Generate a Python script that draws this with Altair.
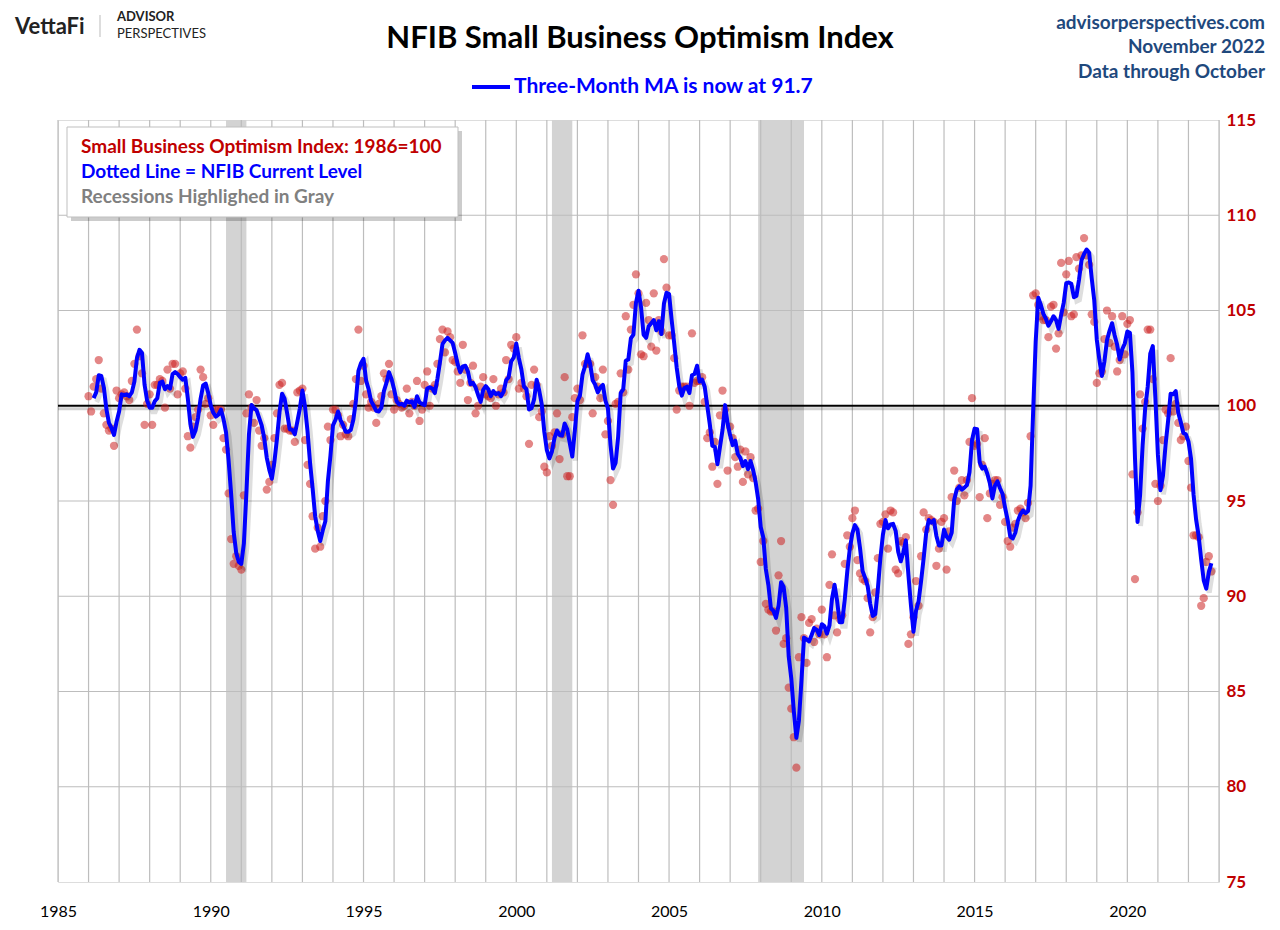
import altair as alt
import pandas as pd

# ---- monthly NFIB Small Business Optimism Index ----
v1986 = [100.5, 99.7, 101.0, 101.4, 102.4, 100.9, 99.6, 99.0, 98.7, 98.8, 97.9, 100.8]
v1987 = [100.4, 100.6, 100.7, 100.5, 100.3, 101.3, 102.2, 104.0, 102.6, 101.7, 99.0, 100.1]
v1988 = [100.6, 99.0, 101.1, 101.1, 101.4, 101.3, 99.9, 101.9, 100.9, 102.2, 102.2, 100.6]
v1989 = [101.7, 101.8, 100.9, 98.4, 97.8, 98.9, 99.4, 99.8, 101.9, 101.5, 100.1, 100.4]
v1990 = [99.5, 99.0, 99.8, 99.8, 99.8, 98.3, 97.7, 95.4, 93.0, 91.7, 92.1, 91.6]
v1991 = [91.4, 95.3, 99.6, 100.6, 99.9, 99.1, 100.3, 98.7, 97.9, 98.3, 95.6, 96.0]
v1992 = [96.9, 98.3, 99.6, 101.1, 101.2, 98.8, 98.8, 98.7, 98.7, 98.1, 100.7, 100.8]
v1993 = [100.9, 98.2, 96.9, 95.9, 94.2, 92.5, 93.6, 92.6, 94.2, 95.0, 98.9, 98.2]
v1994 = [99.8, 99.8, 99.5, 98.4, 99.0, 98.5, 98.4, 99.3, 100.1, 101.4, 104.0, 101.3]
v1995 = [102.1, 100.6, 99.9, 100.2, 99.9, 99.1, 100.1, 100.5, 101.7, 101.4, 102.2, 100.6]
v1996 = [99.8, 100.3, 100.1, 99.9, 100.0, 100.9, 99.6, 100.2, 100.0, 101.3, 99.2, 99.8]
v1997 = [101.1, 101.8, 100.0, 100.9, 101.1, 102.2, 103.5, 104.0, 102.8, 103.9, 103.6, 102.4]
v1998 = [102.3, 101.8, 101.2, 103.2, 101.9, 100.3, 101.2, 102.1, 99.6, 100.0, 101.0, 101.5]
v1999 = [100.6, 100.5, 100.4, 101.4, 100.0, 100.6, 100.9, 100.7, 102.4, 101.4, 103.2, 103.0]
v2000 = [103.6, 100.9, 101.2, 100.9, 100.5, 98.0, 101.1, 101.9, 101.1, 99.4, 99.7, 96.8]
v2001 = [96.5, 98.4, 97.9, 98.6, 99.6, 97.2, 98.5, 101.5, 96.3, 96.3, 99.4, 100.4]
v2002 = [100.9, 100.3, 103.7, 102.2, 102.2, 102.2, 99.6, 101.5, 101.0, 100.4, 101.9, 98.5]
v2003 = [99.2, 96.1, 94.8, 100.1, 100.2, 101.7, 100.7, 104.7, 101.9, 104.0, 105.3, 106.9]
v2004 = [105.9, 102.7, 102.6, 105.4, 104.5, 103.1, 105.9, 102.9, 104.5, 103.9, 107.7, 106.2]
v2005 = [103.7, 103.7, 102.5, 99.8, 100.8, 101.0, 101.0, 101.0, 100.0, 103.8, 101.2, 101.3]
v2006 = [101.3, 101.5, 100.2, 98.3, 98.6, 96.8, 98.1, 95.9, 99.5, 100.8, 99.8, 96.6]
v2007 = [98.9, 98.3, 97.3, 96.8, 97.7, 96.0, 97.6, 96.4, 97.3, 96.2, 94.5, 94.6]
v2008 = [91.8, 92.9, 89.6, 89.3, 89.2, 89.2, 88.2, 91.1, 92.9, 87.5, 87.8, 85.2]
v2009 = [84.1, 82.6, 81.0, 86.8, 88.9, 87.8, 86.5, 88.6, 88.8, 87.6, 88.3, 88.0]
v2010 = [89.3, 88.0, 86.8, 90.6, 92.2, 89.0, 88.1, 88.8, 89.0, 91.7, 93.2, 92.6]
v2011 = [94.1, 94.5, 91.9, 91.2, 90.9, 90.8, 89.9, 88.1, 88.9, 90.2, 92.0, 93.8]
v2012 = [93.9, 94.3, 92.5, 94.5, 94.4, 91.4, 91.2, 92.9, 92.8, 93.1, 87.5, 88.0]
v2013 = [88.9, 90.8, 89.5, 92.1, 94.4, 93.5, 94.1, 94.0, 93.9, 91.6, 92.5, 93.9]
v2014 = [94.1, 91.4, 93.4, 95.2, 96.6, 95.0, 95.7, 96.1, 95.3, 96.1, 98.1, 100.4]
v2015 = [97.9, 98.0, 95.2, 96.9, 98.3, 94.1, 95.4, 95.9, 96.1, 96.1, 94.8, 95.2]
v2016 = [93.9, 92.9, 92.6, 93.6, 93.8, 94.5, 94.6, 94.4, 94.1, 94.9, 98.4, 105.8]
v2017 = [105.9, 105.3, 104.7, 104.5, 104.5, 103.6, 105.2, 105.3, 103.0, 103.8, 107.5, 104.9]
v2018 = [106.9, 107.6, 104.7, 104.8, 107.8, 107.2, 107.9, 108.8, 107.9, 107.4, 104.8, 104.4]
v2019 = [101.2, 101.7, 101.8, 103.5, 105.0, 103.3, 104.7, 103.1, 101.8, 102.4, 104.7, 102.7]
v2020 = [104.3, 104.5, 96.4, 90.9, 94.4, 100.6, 98.8, 100.2, 104.0, 104.0, 101.4, 95.9]
v2021 = [95.0, 95.8, 98.2, 99.8, 99.6, 102.5, 99.7, 100.1, 99.1, 98.2, 98.4, 98.9]
v2022 = [97.1, 95.7, 93.2, 93.2, 93.1, 89.5, 89.9, 91.8, 92.1, 91.3]

series = [v1986, v1987, v1988, v1989, v1990, v1991, v1992, v1993, v1994, v1995,
          v1996, v1997, v1998, v1999, v2000, v2001, v2002, v2003, v2004, v2005,
          v2006, v2007, v2008, v2009, v2010, v2011, v2012, v2013, v2014, v2015,
          v2016, v2017, v2018, v2019, v2020, v2021, v2022]
first_year = 1986

# recessions (decimal years: Jul-1990..Mar-1991, Mar-2001..Nov-2001, Dec-2007..Jun-2009)
rec_start = [1990 + 6 / 12, 2001 + 2 / 12, 2007 + 11 / 12]
rec_end = [1991 + 2 / 12, 2001 + 10 / 12, 2009 + 5 / 12]

grid_years = list(range(1985, 2024))
grid_levels = [80, 85, 90, 95, 105, 110]
x_ticks = [1985, 1990, 1995, 2000, 2005, 2010, 2015, 2020]
y_ticks = [75, 80, 85, 90, 95, 100, 105, 110, 115]
ref_level = [100]

rows = []
for i, vals in enumerate(series):
    for m, v in enumerate(vals):
        rows.append({"t": first_year + i + m / 12.0, "value": v})
df = pd.DataFrame(rows)
rec_df = pd.DataFrame({"start": rec_start, "end": rec_end})
gy_df = pd.DataFrame({"yr": grid_years})
gl_df = pd.DataFrame({"lvl": grid_levels})
ref_df = pd.DataFrame({"lvl": ref_level})

W, H = 1161, 762
FONT = "Lato"
RED = "#C00000"
NAVY = "#1F497D"
BLUE = "#0000FF"

xs = alt.Scale(domain=[1985, 2023], nice=False, zero=False)
ys = alt.Scale(domain=[75, 115], nice=False, zero=False)
x_axis = alt.Axis(values=x_ticks, format="d", labelFontSize=16, labelColor="#000000",
                  labelFont=FONT, ticks=False, domain=False, grid=False,
                  labelPadding=21, labelFlush=False, title=None)
y_axis = alt.Axis(values=y_ticks, orient="right", labelFontSize=17, labelColor=RED,
                  labelFontWeight="bold", labelFont=FONT, ticks=False, domain=False,
                  grid=False, labelPadding=7, labelFlush=False, title=None)

rec = alt.Chart(rec_df).mark_rect(color="#D3D3D3").encode(
    x=alt.X("start:Q", scale=xs, axis=x_axis),
    x2="end:Q",
    y=alt.Y("lo:Q", scale=ys, axis=y_axis),
    y2="hi:Q",
).transform_calculate(lo="75", hi="115")

vgrid = alt.Chart(gy_df).mark_rule(color="#BDBDBD", strokeWidth=1.2).encode(
    x=alt.X("yr:Q", scale=xs, axis=x_axis))
hgrid = alt.Chart(gl_df).mark_rule(color="#BDBDBD", strokeWidth=1.2).encode(
    y=alt.Y("lvl:Q", scale=ys, axis=y_axis))
ref_shadow = alt.Chart(ref_df).mark_rule(color="#000000", opacity=0.18, strokeWidth=3,
                                         yOffset=3).encode(
    y=alt.Y("lvl:Q", scale=ys, axis=y_axis))
ref_line = alt.Chart(ref_df).mark_rule(color="#000000", strokeWidth=2.2).encode(
    y=alt.Y("lvl:Q", scale=ys, axis=y_axis))

pts = alt.Chart(df).mark_circle(size=68, color="#CC2222", opacity=0.55).encode(
    x=alt.X("t:Q", scale=xs, axis=x_axis),
    y=alt.Y("value:Q", scale=ys, axis=y_axis),
)

ma_base = alt.Chart(df).transform_window(
    ma="mean(value)", frame=[-2, 0], sort=[alt.SortField("t")]
).transform_window(
    rn="row_number()", sort=[alt.SortField("t")]
).transform_filter("datum.rn >= 3")

ma_shadow = ma_base.mark_line(color="#000000", opacity=0.13, strokeWidth=5,
                              xOffset=3, yOffset=4).encode(
    x=alt.X("t:Q", scale=xs, axis=x_axis),
    y=alt.Y("ma:Q", scale=ys, axis=y_axis),
)
ma_line = ma_base.mark_line(color=BLUE, strokeWidth=4, strokeJoin="round").encode(
    x=alt.X("t:Q", scale=xs, axis=x_axis),
    y=alt.Y("ma:Q", scale=ys, axis=y_axis),
)

one = pd.DataFrame({"k": [0]})

# legend box inside the plot
box_shadow = alt.Chart(one).mark_rect(color="#000000", opacity=0.2).encode(
    x=alt.value(13), x2=alt.value(404), y=alt.value(11), y2=alt.value(101))
box = alt.Chart(one).mark_rect(fill="#FFFFFF", stroke="#BFBFBF", strokeWidth=1).encode(
    x=alt.value(9), x2=alt.value(400), y=alt.value(7), y2=alt.value(97))


def label(text, x, y, size, color, weight="bold", align="left", baseline="middle"):
    return alt.Chart(one).mark_text(
        text=text, fontSize=size, font=FONT, fontWeight=weight, color=color,
        align=align, baseline=baseline,
    ).encode(x=alt.value(x), y=alt.value(y))


leg1 = label("Small Business Optimism Index: 1986=100", 23, 27, 19, RED)
leg2 = label("Dotted Line = NFIB Current Level", 23, 52, 19, BLUE)
leg3 = label("Recessions Highlighed in Gray", 23, 77, 19, "#808080")

# header
title = label("NFIB Small Business Optimism Index", 582, -81, 31, "#000000",
              align="center")
sub_line = alt.Chart(one).mark_rule(color=BLUE, strokeWidth=4).encode(
    x=alt.value(414), x2=alt.value(452), y=alt.value(-33))
sub_text = label("Three-Month MA is now at 91.7", 456, -33, 21, BLUE)
r1 = label("advisorperspectives.com", 1207, -97, 19, NAVY, align="right")
r2 = label("November 2022", 1207, -73, 19, NAVY, align="right")
r3 = label("Data through October", 1207, -48, 19, NAVY, align="right")
logo1 = label("VettaFi", -43, -93, 22, "#222222")
logo_sep = alt.Chart(one).mark_rule(color="#BBBBBB", strokeWidth=1).encode(
    x=alt.value(42), y=alt.value(-105), y2=alt.value(-83))
logo2 = label("ADVISOR", 59, -99, 13, "#222222", baseline="alphabetic")
logo3 = label("PERSPECTIVES", 59, -82, 13, "#222222", weight="normal",
              baseline="alphabetic")

chart = alt.layer(
    rec, vgrid, hgrid, ref_shadow, ref_line, pts, ma_shadow, ma_line,
    box_shadow, box, leg1, leg2, leg3,
    title, sub_line, sub_text, r1, r2, r3, logo1, logo_sep, logo2, logo3,
).properties(
    width=W, height=H,
    padding={"left": 50, "top": 112, "right": 52, "bottom": 40},
    autosize=alt.AutoSizeParams(type="none"),
    background="#FFFFFF",
).configure_view(stroke="#A6A6A6", strokeWidth=1).configure(font=FONT)

chart.save("out.html", embed_options={"renderer": "svg", "actions": False})
